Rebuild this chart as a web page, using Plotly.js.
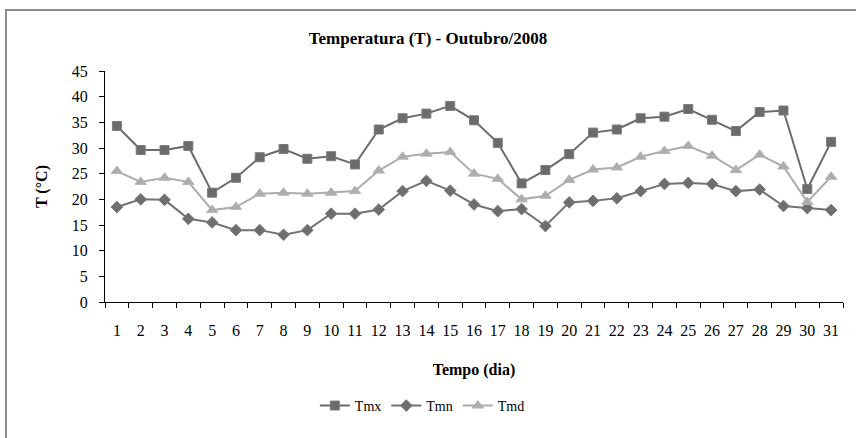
<!DOCTYPE html>
<html>
<head>
<meta charset="utf-8">
<script src="https://cdn.plot.ly/plotly-3.0.1.min.js"></script>
<style>
  html, body { margin: 0; padding: 0; background: #fff; }
  #chart { width: 856px; height: 438px; }
  #frame { position: absolute; left: 5px; top: 9px; width: 900px; height: 500px;
           border-left: 2px solid #8c8c8c; border-top: 2px solid #8c8c8c; pointer-events: none; }
</style>
</head>
<body>
<div id="chart"></div>
<div id="frame"></div>
<script>
const days = ['1','2','3','4','5','6','7','8','9','10','11','12','13','14','15','16','17','18','19','20','21','22','23','24','25','26','27','28','29','30','31'];
const tmx = [34.3, 29.6, 29.6, 30.4, 21.3, 24.2, 28.2, 29.8, 27.9, 28.4, 26.8, 33.6, 35.8, 36.7, 38.2, 35.4, 31.0, 23.1, 25.7, 28.8, 33.0, 33.6, 35.8, 36.1, 37.6, 35.5, 33.3, 37.0, 37.3, 22.0, 31.2];
const tmn = [18.5, 20.0, 19.9, 16.2, 15.5, 14.0, 14.0, 13.1, 14.0, 17.2, 17.2, 18.0, 21.6, 23.6, 21.7, 19.0, 17.7, 18.1, 14.8, 19.4, 19.7, 20.2, 21.6, 23.0, 23.2, 23.0, 21.6, 21.9, 18.7, 18.3, 17.9];
const tmd = [25.5, 23.4, 24.2, 23.4, 17.9, 18.5, 21.1, 21.3, 21.1, 21.3, 21.6, 25.6, 28.3, 28.9, 29.2, 25.0, 24.0, 20.0, 20.7, 23.8, 25.8, 26.2, 28.3, 29.4, 30.4, 28.5, 25.7, 28.7, 26.4, 19.5, 24.4];
const yTicks = [0, 5, 10, 15, 20, 25, 30, 35, 40, 45];

const font = "'Liberation Serif', 'Times New Roman', serif";

const traces = [
  { x: days, y: tmx, name: 'Tmx', type: 'scatter', mode: 'lines+markers',
    line: { color: '#6b6b6b', width: 2 },
    marker: { symbol: 'square', size: 9, color: '#6b6b6b', line: { color: '#7a7a7a', width: 1 } } },
  { x: days, y: tmn, name: 'Tmn', type: 'scatter', mode: 'lines+markers',
    line: { color: '#727272', width: 2 },
    marker: { symbol: 'diamond', size: 9, color: '#6e6e6e', line: { color: '#7a7a7a', width: 1 } } },
  { x: days, y: tmd, name: 'Tmd', type: 'scatter', mode: 'lines+markers',
    line: { color: '#acacac', width: 2 },
    marker: { symbol: 'triangle-up', size: 10, color: '#adadad', line: { color: '#b4b4b4', width: 1 } } }
];

const layout = {
  width: 856, height: 438,
  paper_bgcolor: '#ffffff', plot_bgcolor: '#ffffff',
  margin: { l: 105, r: 13, t: 71, b: 136 },
  font: { family: font, color: '#000', size: 16 },
  title: { text: '<b>Temperatura (T) - Outubro/2008</b>', font: { family: font, size: 17, color: '#000' },
           x: 0.5, xanchor: 'center', y: 1 - 38/438, yanchor: 'middle', yref: 'container' },
  xaxis: {
    type: 'category', range: [-0.5, 30.5], tickson: 'boundaries', tickangle: 0,
    showgrid: false, zeroline: false, showline: true, linecolor: '#000', linewidth: 1,
    ticks: 'outside', ticklen: 5, tickcolor: '#000', ticklabelstandoff: 14,
    tickfont: { family: font, size: 16, color: '#000' },
    title: { text: '<b>Tempo (dia)</b>', font: { family: font, size: 16, color: '#000' }, standoff: 25 }
  },
  yaxis: {
    range: [0, 45], tickvals: yTicks, ticktext: yTicks.map(String),
    showgrid: false, zeroline: false, showline: true, linecolor: '#000', linewidth: 1,
    ticks: 'outside', ticklen: 5, tickcolor: '#000', ticklabelstandoff: 8,
    tickfont: { family: font, size: 16, color: '#000' },
    title: { text: '<b>T (°C)</b>', font: { family: font, size: 16, color: '#000' }, standoff: 20 }
  },
  showlegend: true,
  legend: { orientation: 'h', x: 0.43, xanchor: 'center', y: -0.45, yanchor: 'middle',
            font: { family: font, size: 14, color: '#000' }, bgcolor: 'rgba(0,0,0,0)', itemwidth: 30 }
};

Plotly.newPlot('chart', traces, layout, { staticPlot: true, displayModeBar: false });
</script>
</body>
</html>
